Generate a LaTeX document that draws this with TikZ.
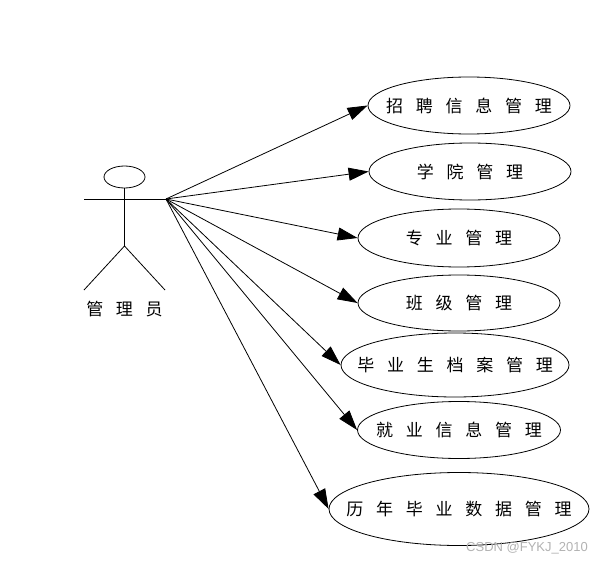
\documentclass[tikz,border=0pt]{standalone}
\usepackage{fontspec}
\newfontfamily\cjk[LetterSpace=75]{Noto Sans CJK SC}
\newfontfamily\wmfont{Liberation Sans}
\usetikzlibrary{shapes.geometric,arrows.meta}
\newcommand{\uctext}[1]{\makebox[0pt]{\cjk #1}}
\begin{document}
\begin{tikzpicture}[x=1pt,y=-1pt,line width=0.8pt,
        usecase/.style={ellipse,draw,inner sep=0pt,font=\fontsize{17}{19}\selectfont},
        link/.style={-{Triangle[length=20pt,width=13pt]}}]
        \useasboundingbox (0,0) rectangle (607,564);
        % actor
        \draw (124.5,177) ellipse (20.5 and 11);
        \draw (84,199) -- (166,199) coordinate (hand);
        \draw (124.5,188) -- (124.5,246) coordinate (hip);
        \draw (84,290) -- (hip) -- (165,290);
        \node[font=\fontsize{17}{19}\selectfont] (admin) at (124.5,309) {\uctext{管理员}};
        % use cases
        \node[usecase,minimum width=202,minimum height=57] (recruit) at (469,105.5) {\uctext{招聘信息管理}};
        \node[usecase,minimum width=202,minimum height=57] (college) at (470,171.5) {\uctext{学院管理}};
        \node[usecase,minimum width=202,minimum height=58] (major) at (459,238) {\uctext{专业管理}};
        \node[usecase,minimum width=202,minimum height=56] (classes) at (459,303) {\uctext{班级管理}};
        \node[usecase,minimum width=228,minimum height=64] (archive) at (455,365) {\uctext{毕业生档案管理}};
        \node[usecase,minimum width=203,minimum height=57] (employ) at (459,430) {\uctext{就业信息管理}};
        \node[usecase,minimum width=260,minimum height=73] (history) at (459,509) {\uctext{历年毕业数据管理}};
        \foreach \u in {recruit,college,major,classes,archive,employ,history}
            \draw[link] (hand) -- (\u.west);
        \node[text=gray!60,font=\wmfont\fontsize{13}{15}\selectfont] (mark) at (527,548) {CSDN @FYKJ\_2010};
\end{tikzpicture}
\end{document}
